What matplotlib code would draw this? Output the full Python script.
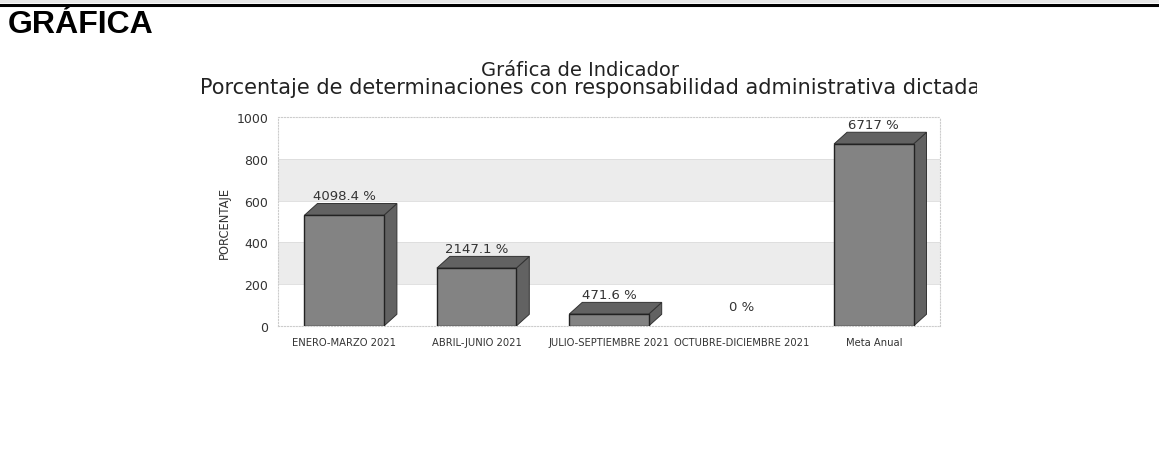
import matplotlib.pyplot as plt
from matplotlib.patches import Polygon, Rectangle
from matplotlib.transforms import Bbox

categories = ["ENERO-MARZO 2021", "ABRIL-JUNIO 2021", "JULIO-SEPTIEMBRE 2021",
              "OCTUBRE-DICIEMBRE 2021", "Meta Anual"]
# bar heights as drawn on the axis (the chart scales them), labels as printed
bar_heights = [530, 277, 57, 0, 871]
value_labels = ["4098.4 %", "2147.1 %", "471.6 %", "0 %", "6717 %"]
y_ticks = [0, 200, 400, 600, 800, 1000]

W, H = 1159, 477
fig = plt.figure(figsize=(W / 100, H / 100), dpi=100)

# page header
fig.add_artist(Rectangle((0, 1 - 4 / H), 1, 4 / H, transform=fig.transFigure,
                         facecolor="#e6e6e6", edgecolor="none"))
fig.add_artist(plt.Line2D([0, 1], [1 - 5.5 / H, 1 - 5.5 / H], transform=fig.transFigure,
                          color="black", lw=2.2))
fig.text(8 / W, 1 - 25 / H, "GRÁFICA", fontsize=23, fontweight="bold",
         family="Liberation Sans", va="center", ha="left")

# titles
fig.text(580 / W, 1 - 70 / H, "Gráfica de Indicador", fontsize=14,
         ha="center", va="center", color="#222222")
t2 = fig.text(200 / W, 1 - 88 / H,
              "Porcentaje de determinaciones con responsabilidad administrativa dictada",
              fontsize=15, ha="left", va="center", color="#222222")
t2.set_clip_box(Bbox([[0, 0], [977, H]]))
t2.set_clip_on(True)

ax = fig.add_axes([278 / W, 1 - 327 / H, (940 - 278) / W, (327 - 118) / H])
ax.set_xlim(-0.5, len(categories) - 0.5)
ax.set_ylim(0, 1000)

# alternating bands
for lo in (200, 600):
    ax.axhspan(lo, lo + 200, facecolor="#ececec", edgecolor="none", zorder=0)
for y in y_ticks[1:-1]:
    ax.axhline(y, color="#dcdcdc", lw=0.6, zorder=0.5)

bw = 0.6
dx, dy = 0.098, 56
for i, h in enumerate(bar_heights):
    x0 = i - bw / 2
    x1 = i + bw / 2
    if h > 0:
        side = Polygon([(x1, 0), (x1 + dx, dy), (x1 + dx, h + dy), (x1, h)],
                       closed=True, facecolor="#626262", edgecolor="#333333",
                       lw=0.7, zorder=2)
        top = Polygon([(x0, h), (x0 + dx, h + dy), (x1 + dx, h + dy), (x1, h)],
                      closed=True, facecolor="#626262", edgecolor="#333333",
                      lw=0.7, zorder=2)
        ax.add_patch(side)
        ax.add_patch(top)
        ax.bar(i, h, width=bw, color="#838383", edgecolor="#222222", lw=1.0, zorder=3)
    ax.annotate(value_labels[i], (i, h + dy), xytext=(0, 1), textcoords="offset points",
                ha="center", va="bottom", fontsize=9.5, color="#333333", zorder=4)

ax.set_xticks(range(len(categories)))
ax.set_xticklabels(categories, fontsize=7.2, color="#333333")
ax.set_yticks(y_ticks)
ax.set_yticklabels([str(v) for v in y_ticks], fontsize=9, color="#333333")
ax.tick_params(length=0, pad=7)
ax.tick_params(axis="x", pad=8)
ax.set_ylabel("PORCENTAJE", fontsize=8.3, color="#333333", labelpad=4)

for s in ax.spines.values():
    s.set_color("#cccccc")
    s.set_linestyle(":")
    s.set_linewidth(0.8)

fig.savefig("out.png", dpi=100)
